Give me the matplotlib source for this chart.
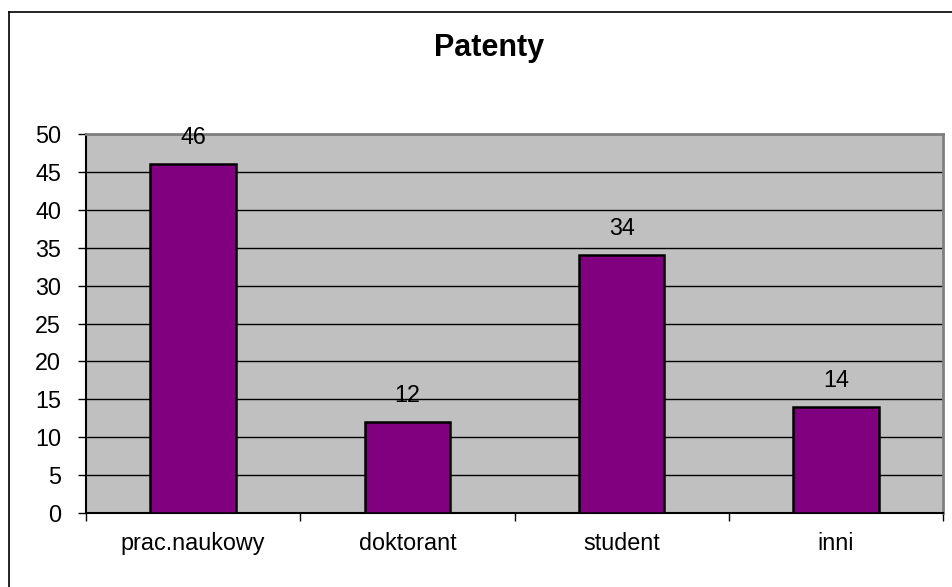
import matplotlib
matplotlib.use("Agg")
import matplotlib.pyplot as plt
from matplotlib.lines import Line2D
import numpy as np

categories = ["prac.naukowy", "doktorant", "student", "inni"]
values = [46, 12, 34, 14]
y_ticks = [0, 5, 10, 15, 20, 25, 30, 35, 40, 45, 50]

plt.rcParams['font.family'] = ['Liberation Sans', 'DejaVu Sans']

W, H = 952, 587
fig = plt.figure(figsize=(W / 100, H / 100), dpi=100)
fig.patch.set_facecolor("white")

ax = fig.add_axes([86 / W, 1 - 513 / H, (943 - 86) / W, (513 - 134) / H])
ax.set_facecolor("#C0C0C0")

FS = 16.8

x = np.arange(len(categories))
bars = ax.bar(x, values, width=0.4, color="#800080", edgecolor="black", linewidth=1.8, zorder=3)

for xi, v in zip(x, values):
    ax.annotate(str(v), (xi, v), xytext=(0, 14.5), textcoords="offset points",
                ha="center", va="baseline", fontsize=FS, color="black")

ax.set_xlim(-0.5, len(categories) - 0.5)
ax.set_ylim(0, 50)
ax.set_yticks(y_ticks)
ax.set_yticklabels([str(t) for t in y_ticks], fontsize=FS)
ax.yaxis.grid(True, color="black", linewidth=1.0)
ax.set_axisbelow(True)

ax.set_xticks(x)
ax.set_xticklabels(categories, fontsize=FS)
ax.set_xticks(np.arange(-0.5, len(categories)), minor=True)
ax.tick_params(axis="x", which="major", length=0, pad=14)
ax.tick_params(axis="x", which="minor", length=5.5, width=1.0, color="black", direction="out")
ax.tick_params(axis="y", length=6, width=1.0, color="black", direction="out", pad=12)

for side in ["left", "bottom"]:
    ax.spines[side].set_color("black")
    ax.spines[side].set_linewidth(1.5)
for side in ["top", "right"]:
    ax.spines[side].set_color("#808080")
    ax.spines[side].set_linewidth(2.0)

fig.text(489.5 / W, 1 - 56 / H, "Patenty", ha="center", va="baseline",
         fontsize=22, fontweight="bold", color="black")

# outer chart border (top and left visible)
fig.add_artist(Line2D([9 / W, 1.0], [1 - 12 / H, 1 - 12 / H], transform=fig.transFigure,
                      color="black", linewidth=1.2))
fig.add_artist(Line2D([9 / W, 9 / W], [0.0, 1 - 12 / H], transform=fig.transFigure,
                      color="black", linewidth=1.2))

fig.savefig("out.png", dpi=100)
